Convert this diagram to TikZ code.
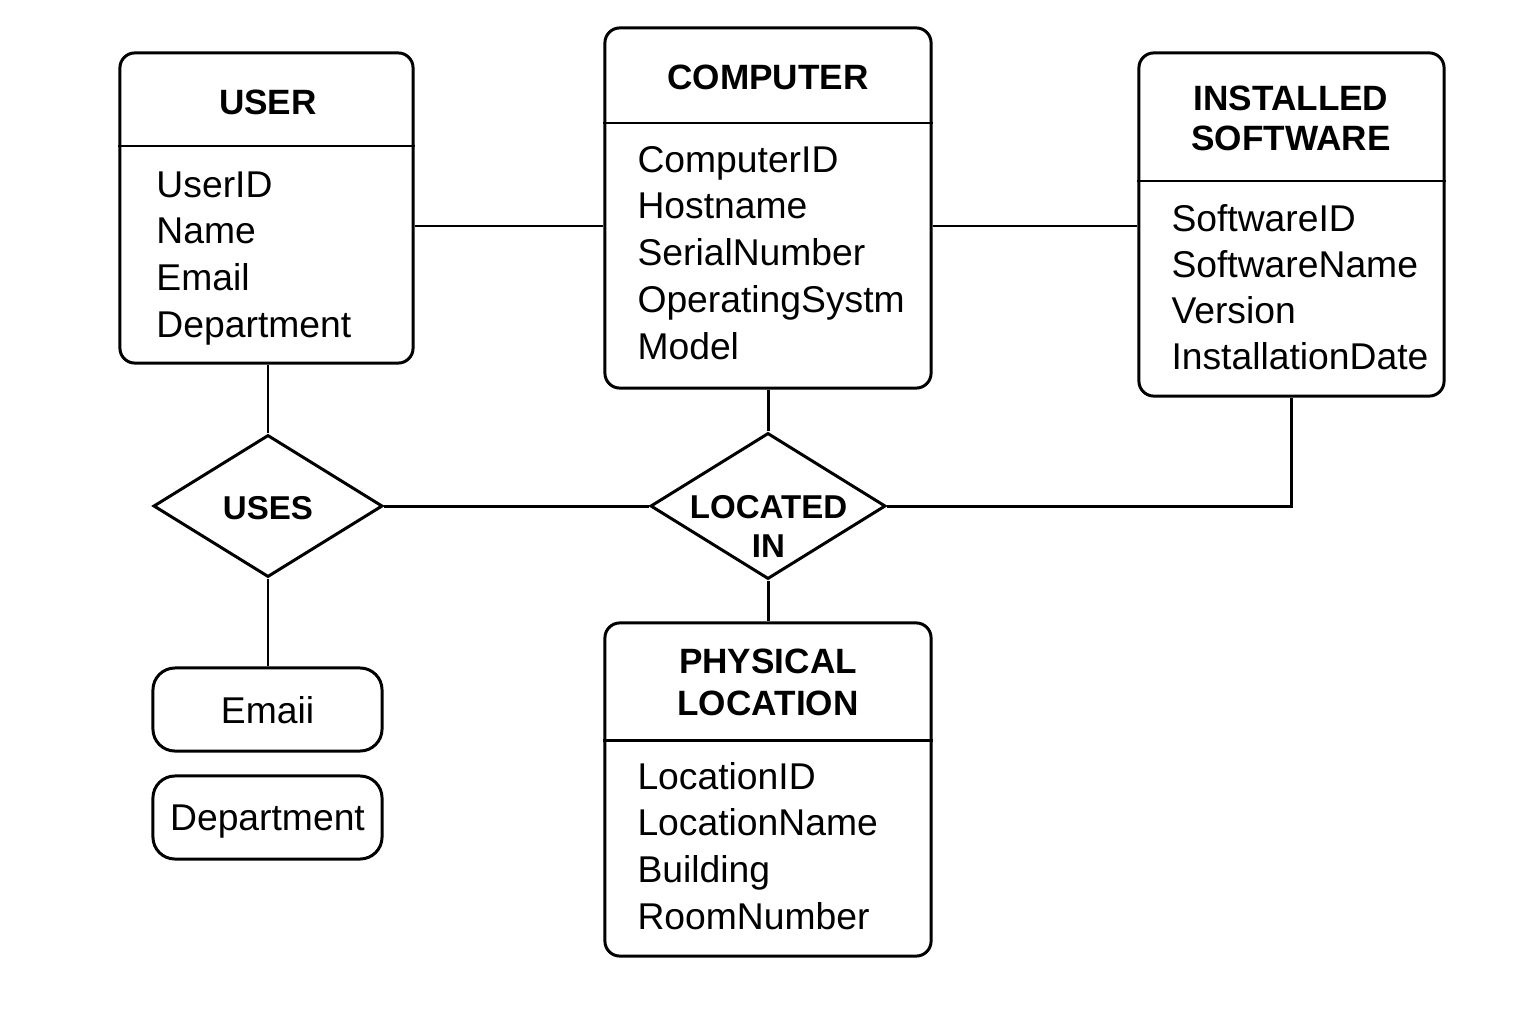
\documentclass[tikz,border=0pt]{standalone}
\usepackage{fontspec}
\setmainfont{Liberation Sans}
\usetikzlibrary{shapes.geometric}

\begin{document}
\begin{tikzpicture}[x=0.01cm, y=-0.01cm, line width=0.85pt,
    entity/.style={draw, rounded corners=0.15cm, inner sep=0pt},
    attrbox/.style={draw, rounded corners=0.22cm, inner sep=0pt, text depth=0pt,
        minimum width=2.29cm, minimum height=0.83cm, font=\fontsize{10.6}{13}\selectfont},
    relation/.style={draw, diamond, inner sep=0pt},
    title/.style={font=\bfseries\fontsize{10}{11.4}\selectfont, align=center},
    reltext/.style={font=\bfseries\fontsize{9.4}{11.1}\selectfont, align=center},
    attr/.style={font=\fontsize{10.6}{13}\selectfont, anchor=base west, inner sep=0pt}]

    \useasboundingbox (0,0) rectangle (1536,1024);

    % draw the entity boxes
    \node [entity, minimum width=2.93cm, minimum height=3.10cm] (user) at (266.5,208) {};
    \node [entity, minimum width=3.26cm, minimum height=3.60cm] (computer) at (768,208) {};
    \node [entity, minimum width=3.05cm, minimum height=3.43cm] (software) at (1291.5,224.5) {};
    \node [entity, minimum width=3.26cm, minimum height=3.33cm] (location) at (768,789.5) {};

    % draw the header lines
    \draw (user.west |- 0,146) -- (user.east |- 0,146);
    \draw (computer.west |- 0,123) -- (computer.east |- 0,123);
    \draw (software.west |- 0,181) -- (software.east |- 0,181);
    \draw (location.west |- 0,740) -- (location.east |- 0,740);

    % draw the entity names
    \node [title, anchor=base] (user-title) at (268,114) {USER};
    \node [title, anchor=base] (computer-title) at (768,90) {COMPUTER};
    \node [title] (software-title) at (1291,118.5) {INSTALLED\\SOFTWARE};
    \node [title, font=\bfseries\fontsize{10}{11.95}\selectfont] (location-title) at (768,682) {PHYSICAL\\LOCATION};

    % draw the attributes
    \foreach \a [count=\i] in {UserID, Name, Email, Department}
        \node [attr] (user-a\i) at (155, {197+46.7*(\i-1)}) {\a};
    \foreach \a [count=\i] in {ComputerID, Hostname, SerialNumber, OperatingSystm, Model}
        \node [attr] (computer-a\i) at (636, {172+46.75*(\i-1)}) {\a};
    \foreach \a [count=\i] in {SoftwareID, SoftwareName, Version, InstallationDate}
        \node [attr] (software-a\i) at (1170, {231+46*(\i-1)}) {\a};
    \foreach \a [count=\i] in {LocationID, LocationName, Building, RoomNumber}
        \node [attr] (location-a\i) at (636, {789+46.7*(\i-1)}) {\a};

    % draw the relationships
    \node [relation, minimum width=2.29cm, minimum height=1.42cm] (uses) at (268,506) {};
    \node [relation, minimum width=2.35cm, minimum height=1.46cm] (located) at (768,506) {};
    \node [reltext, anchor=base] (uses-text) at (268,519) {USES};
    \node [reltext] (located-text) at (768.5,526.5) {LOCATED\\IN};

    % draw the two loose boxes
    \node [attrbox] (email) at (267.5,709.5) {Emaii};
    \node [attrbox] (dept) at (267.5,817.5) {Department};

    % draw the connectors
    \draw (user.east |- 0,226) -- (computer.west |- 0,226);
    \draw (computer.east |- 0,226) -- (software.west |- 0,226);
    \draw (uses.north |- user.south) -- (uses.north);
    \draw (uses.south) -- (uses.south |- email.north);
    \draw (uses.east) -- (located.west);
    \draw (computer.south) -- (located.north);
    \draw (located.south) -- (location.north);
    \draw (located.east) -- (software.south |- located.east) -- (software.south);

\end{tikzpicture}
\end{document}
